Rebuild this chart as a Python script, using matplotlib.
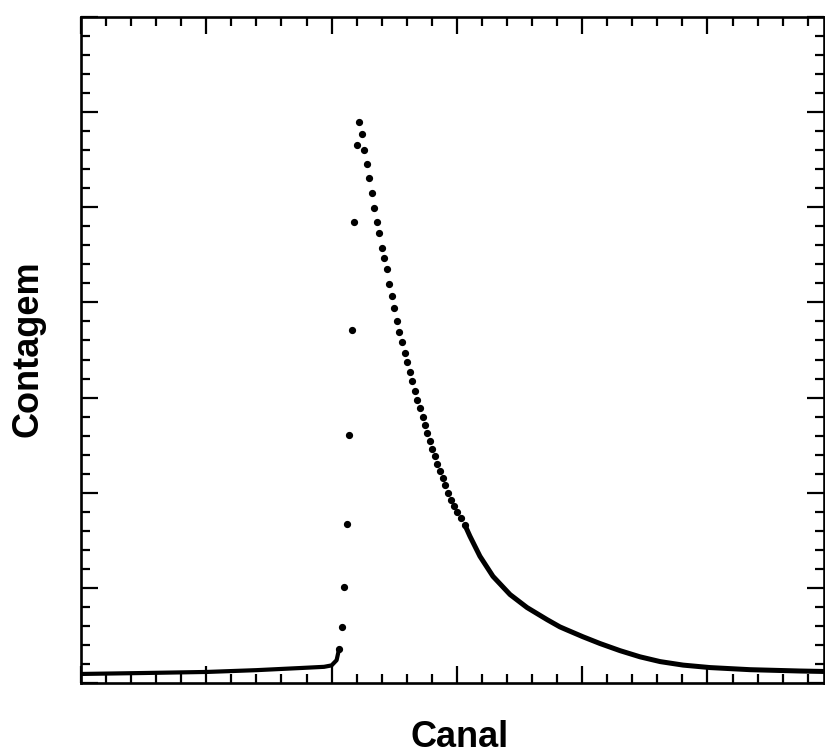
import matplotlib
matplotlib.use("Agg")
import matplotlib.pyplot as plt
from matplotlib.ticker import MultipleLocator

# baseline before the peak (drawn as a thick line, dots merge there)
base_ch = [0, 25, 50, 70, 88, 97, 100, 102, 103]
base_counts = [95, 105, 116, 135, 158, 170, 185, 240, 359]

# separated dots around the peak
dot_ch = [103, 104, 105, 106, 107, 108, 109, 110, 111, 112,
          113, 114, 115, 116, 117, 118, 119, 120, 121, 122,
          123, 124, 125, 126, 126.9, 128.2, 129.3, 130.2, 131.2, 132.2,
          133.2, 134.1, 135.2, 136.4, 137.2, 138.1, 139.3, 140.2, 141.1, 142.2,
          143.3, 144.3, 145.3, 146.6, 147.6, 148.8, 150.2, 151.5, 153.2]
dot_counts = [359, 592, 1004, 1670, 2611, 3710, 4841, 5655, 5899, 5772,
              5603, 5455, 5307, 5148, 4989, 4841, 4725, 4577, 4471, 4355,
              4197, 4070, 3943, 3805, 3690, 3584, 3467, 3369, 3274, 3174,
              3073, 2974, 2886, 2798, 2709, 2632, 2544, 2463, 2382, 2304,
              2223, 2153, 2082, 1998, 1927, 1864, 1794, 1730, 1660]

# tail, where the dots are so dense that they look like a line
tail_ch = [153.2, 155.2, 159.2, 164.4, 171.2, 178, 186, 191.1, 193.9,
           200.3, 207.1, 215.1, 223.1, 231.1, 240.3, 251.1, 267, 286.9, 296.9]
tail_counts = [1660, 1543, 1332, 1121, 930, 793, 666, 590, 558,
               486, 415, 340, 275, 225, 188, 162, 140, 126, 121]

fig = plt.figure(figsize=(8.25, 7.54), dpi=100)
ax = fig.add_axes([81 / 825, 71 / 754, 743 / 825, 666 / 754])

ax.plot(base_ch, base_counts, '-', color='black', lw=3.0,
        solid_capstyle='round', solid_joinstyle='round')
ax.plot(tail_ch, tail_counts, '-', color='black', lw=3.6,
        solid_capstyle='round', solid_joinstyle='round')
ax.plot(dot_ch, dot_counts, 'o', color='black', ms=4.2, mec='black')

ax.set_xlim(0, 296.5)
ax.set_ylim(0, 7000)
ax.xaxis.set_major_locator(MultipleLocator(50))
ax.xaxis.set_minor_locator(MultipleLocator(10))
ax.yaxis.set_major_locator(MultipleLocator(1000))
ax.yaxis.set_minor_locator(MultipleLocator(200))
ax.tick_params(which='both', direction='in', top=True, right=True,
               labelbottom=False, labelleft=False, color='black')
ax.tick_params(which='major', length=12.5, width=1.6)
ax.tick_params(which='minor', length=6.5, width=1.6)
for s in ax.spines.values():
    s.set_linewidth(1.9)

fig.text(0.0345, 0.538, "Contagem", rotation=90, ha='center', va='center',
         fontsize=26, fontweight='bold', family='Liberation Sans')
fig.text(0.5576, 0.0225, "Canal", ha='center', va='center',
         fontsize=26, fontweight='bold', family='Liberation Sans')

fig.savefig("out.png", dpi=100)
